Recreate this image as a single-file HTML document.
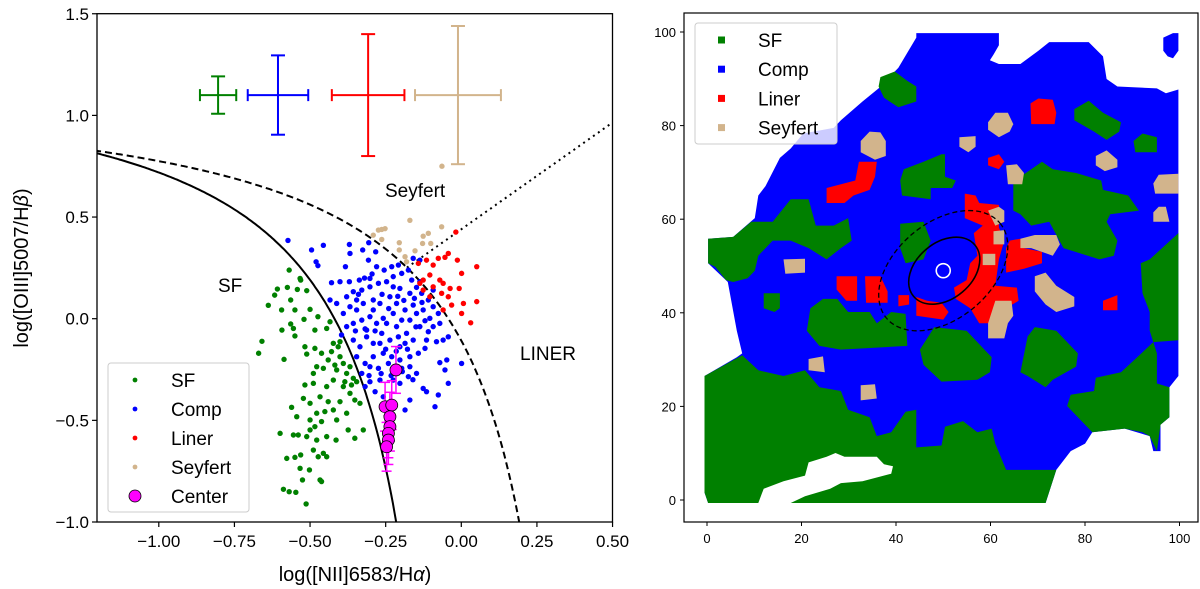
<!DOCTYPE html>
<html><head><meta charset="utf-8">
<style>
html,body{margin:0;padding:0;background:#fff;}
svg{display:block;font-family:"Liberation Sans","DejaVu Sans",sans-serif;}
</style></head>
<body>
<svg id="fig" width="1200" height="589" viewBox="0 0 1200 589" xmlns="http://www.w3.org/2000/svg">
<defs>
<clipPath id="clipL"><rect x="97" y="13.7" width="515.5" height="508.3"/></clipPath>
<clipPath id="clipR"><rect x="684" y="13" width="514" height="509"/></clipPath>
</defs>
<g id="left"></g>
<g id="right"></g>
</svg>
<script>
// ---------- LEFT PANEL DATA (BPT diagram) ----------
const sfX=[-0.569,-0.533,-0.531,-0.608,-0.575,-0.542,-0.511,-0.617,-0.564,-0.638,-0.594,-0.550,-0.500,-0.520,-0.474,-0.564,-0.593,-0.555,-0.484,-0.445,-0.434,-0.659,-0.670,-0.586,-0.550,-0.517,-0.511,-0.484,-0.462,-0.423,-0.407,-0.401,-0.440,-0.478,-0.456,-0.418,-0.390,-0.379,-0.357,-0.346,-0.390,-0.368,-0.352,-0.335,-0.423,-0.445,-0.489,-0.517,-0.522,-0.500,-0.467,-0.440,-0.401,-0.379,-0.423,-0.451,-0.478,-0.500,-0.484,-0.462,-0.412,-0.374,-0.352,-0.414,-0.445,-0.500,-0.511,-0.539,-0.555,-0.544,-0.561,-0.478,-0.489,-0.473,-0.445,-0.456,-0.533,-0.502,-0.577,-0.550,-0.525,-0.467,-0.462,-0.588,-0.569,-0.547,-0.513,-0.599,-0.531,-0.385,-0.363,-0.324,-0.412,-0.489,-0.429,-0.368,-0.401];
const sfY=[0.239,0.198,0.190,0.146,0.154,0.144,0.138,0.116,0.092,0.066,0.043,0.043,0.046,-0.003,0.010,-0.026,-0.056,-0.048,-0.056,-0.048,-0.015,-0.111,-0.170,-0.200,-0.085,-0.138,-0.174,-0.146,-0.170,-0.121,-0.138,-0.113,-0.203,-0.236,-0.244,-0.228,-0.220,-0.269,-0.293,-0.310,-0.334,-0.367,-0.400,-0.416,-0.302,-0.334,-0.318,-0.326,-0.392,-0.416,-0.384,-0.408,-0.408,-0.465,-0.449,-0.457,-0.465,-0.498,-0.531,-0.506,-0.498,-0.547,-0.588,-0.597,-0.580,-0.547,-0.580,-0.572,-0.572,-0.482,-0.436,-0.597,-0.646,-0.679,-0.679,-0.662,-0.736,-0.744,-0.687,-0.682,-0.793,-0.793,-0.801,-0.839,-0.851,-0.854,-0.911,-0.564,-0.670,-0.310,-0.326,-0.547,-0.252,-0.269,-0.162,-0.236,-0.187];
const compX=[-0.573,-0.495,-0.456,-0.480,-0.474,-0.370,-0.368,-0.326,-0.306,-0.283,-0.383,-0.429,-0.401,-0.370,-0.337,-0.307,-0.280,-0.255,-0.230,-0.208,-0.197,-0.175,-0.164,-0.137,-0.148,-0.434,-0.412,-0.379,-0.357,-0.329,-0.302,-0.274,-0.247,-0.225,-0.203,-0.170,-0.131,-0.109,-0.093,-0.076,-0.390,-0.368,-0.346,-0.324,-0.291,-0.269,-0.236,-0.214,-0.186,-0.159,-0.126,-0.104,-0.071,-0.043,-0.060,-0.396,-0.379,-0.357,-0.329,-0.302,-0.280,-0.258,-0.225,-0.197,-0.170,-0.137,-0.109,-0.082,-0.120,-0.357,-0.335,-0.313,-0.291,-0.263,-0.236,-0.208,-0.186,-0.159,-0.142,-0.170,-0.203,-0.230,-0.258,-0.291,-0.318,-0.346,-0.329,-0.302,-0.274,-0.241,-0.197,-0.175,-0.148,-0.203,-0.225,-0.269,-0.302,-0.318,-0.285,-0.258,-0.170,-0.186,-0.126,-0.115,-0.087,-0.071,-0.054,-0.048,-0.043,-0.076,0.001,-0.137,-0.159,-0.302,-0.225,-0.093,-0.313,-0.214,-0.148,-0.269,-0.203,-0.115,-0.291,-0.247,-0.181,-0.346,-0.093,-0.170,-0.225,-0.340,-0.320,-0.295,-0.262,-0.240,-0.210,-0.190,-0.155,-0.130,-0.350,-0.318,-0.285,-0.250,-0.215,-0.178,-0.150,-0.305,-0.265,-0.232,-0.195,-0.160,-0.120];
const compY=[0.385,0.338,0.361,0.280,0.261,0.365,0.321,0.338,0.374,0.329,0.256,0.177,0.182,0.182,0.190,0.288,0.256,0.239,0.256,0.264,0.223,0.239,0.190,0.182,0.154,0.092,0.075,0.108,0.133,0.141,0.157,0.174,0.182,0.157,0.149,0.125,0.125,0.092,0.059,0.026,0.026,0.059,0.043,0.075,0.092,0.075,0.108,0.075,0.043,0.067,0.043,0.002,-0.023,-0.089,-0.105,-0.080,-0.039,-0.023,-0.007,0.010,-0.023,0.002,0.026,-0.007,-0.007,-0.039,-0.064,-0.113,-0.146,-0.105,-0.138,-0.089,-0.121,-0.072,-0.105,-0.089,-0.121,-0.105,-0.170,-0.187,-0.203,-0.187,-0.170,-0.187,-0.220,-0.187,-0.269,-0.236,-0.244,-0.220,-0.244,-0.285,-0.269,-0.318,-0.302,-0.302,-0.310,-0.334,-0.359,-0.384,-0.400,-0.449,-0.343,-0.359,-0.433,-0.216,-0.252,-0.203,-0.318,-0.375,-0.220,0.288,0.297,0.198,0.207,0.141,-0.056,-0.039,0.026,-0.121,-0.138,-0.105,0.043,-0.023,-0.072,0.092,-0.039,-0.236,-0.252,0.120,0.200,0.220,0.120,0.050,0.110,0.090,0.100,0.080,-0.060,-0.050,-0.060,-0.150,-0.160,-0.150,-0.040,-0.280,-0.270,-0.280,-0.260,-0.300,-0.010];
const linerX=[-0.018,-0.043,-0.054,-0.076,-0.115,-0.142,-0.093,-0.104,-0.071,-0.137,-0.126,-0.093,-0.060,-0.104,-0.065,-0.037,-0.043,-0.013,0.001,-0.007,0.051,-0.060,-0.032,0.007,0.001,0.051,0.031,-0.126];
const linerY=[0.426,0.321,0.302,0.297,0.288,0.272,0.264,0.215,0.190,0.174,0.141,0.157,0.174,0.108,0.125,0.149,0.108,0.288,0.223,0.149,0.256,0.043,0.067,0.075,0.026,0.084,-0.020,0.190];
const seyX=[-0.291,-0.274,-0.263,-0.252,-0.263,-0.170,-0.205,-0.205,-0.126,-0.109,-0.128,-0.101,-0.065,-0.153,-0.181,-0.186,-0.064];
const seyY=[0.411,0.436,0.439,0.443,0.390,0.484,0.374,0.338,0.406,0.420,0.370,0.370,0.452,0.334,0.280,0.305,0.750];
const centerX=[-0.216,-0.252,-0.230,-0.236,-0.236,-0.241,-0.241,-0.247];
const centerY=[-0.252,-0.433,-0.425,-0.482,-0.531,-0.564,-0.597,-0.630];
const centerYErr=[0.115,0.12,0.12,0.12,0.12,0.12,0.12,0.12];
const errClass=['SF','Comp','Liner','Seyfert'];
const errColors=['#008000','#0000ff','#ff0000','#d2b48c'];
const errCX=[-0.804,-0.606,-0.308,-0.011];
const errCY=[1.1,1.1,1.1,1.1];
const errXE=[0.06,0.1,0.12,0.142];
const errYE=[0.092,0.195,0.30,0.34];
const xTicks=[-1.00,-0.75,-0.50,-0.25,0.00,0.25,0.50];
const xTickLabels=['\u22121.00','\u22120.75','\u22120.50','\u22120.25','0.00','0.25','0.50'];
const yTicks=[1.5,1.0,0.5,0.0,-0.5,-1.0];
const yTickLabels=['1.5','1.0','0.5','0.0','\u22120.5','\u22121.0'];

// ---------- RIGHT PANEL DATA (map regions traced in image units) ----------
const mapTicks=[0,20,40,60,80,100];
const occupiedOutline=[[770,88],[1000,88],[1000,120],[985,145],[975,160],[1000,170],[1060,170],[1110,135],[1140,112],[1250,112],[1290,150],[1300,210],[1330,230],[1440,235],[1465,248],[1500,238],[1500,1000],[1475,1030],[1475,1110],[1450,1130],[1450,1200],[1430,1200],[1420,1160],[1350,1140],[1260,1150],[1240,1180],[1200,1200],[1160,1250],[1130,1338],[190,1338],[180,1310],[180,1000],[270,950],[285,940],[270,880],[245,750],[190,700],[190,635],[260,630],[320,580],[330,520],[350,495],[390,420],[420,395],[455,355],[540,340],[560,320],[620,270],[665,235],[720,180],[745,140],[770,100]];
const blueIsland=[[1458,100],[1485,88],[1500,88],[1500,135],[1485,155],[1470,150],[1458,135]];
const sfRegions=[
[[180,1000],[180,1310],[190,1338],[1130,1338],[1160,1250],[1020,1250],[990,1180],[980,1140],[940,1150],[900,1120],[850,1135],[840,1185],[770,1190],[770,1090],[740,1095],[700,1150],[660,1160],[640,1110],[580,1090],[560,1040],[500,1030],[460,985],[400,1000],[330,985],[285,945]],
[[1500,620],[1420,690],[1395,700],[1400,780],[1420,830],[1420,880],[1440,940],[1440,1020],[1475,1030],[1475,1110],[1450,1130],[1440,1200],[1420,1160],[1400,1150],[1350,1140],[1260,1150],[1190,1080],[1200,1050],[1265,1040],[1270,1005],[1340,990],[1380,955],[1430,910],[1500,905]],
[[190,635],[260,630],[310,590],[370,590],[420,530],[470,530],[490,600],[540,600],[580,580],[590,640],[560,660],[520,690],[470,660],[420,640],[370,640],[330,680],[320,720],[300,740],[260,750],[240,745],[210,710],[190,700]],
[[345,780],[390,780],[390,820],[375,830],[345,820]],
[[475,820],[510,795],[550,795],[580,830],[640,830],[660,860],[700,830],[740,835],[745,920],[560,930],[500,920],[465,880]],
[[670,205],[710,190],[745,215],[770,230],[770,270],[720,285],[680,260],[665,230]],
[[735,450],[790,430],[840,410],[850,410],[850,470],[880,480],[870,500],[810,500],[810,530],[730,520],[725,480]],
[[725,595],[790,590],[810,640],[790,690],[740,700],[725,660]],
[[780,930],[820,870],[910,880],[950,920],[980,950],[975,990],[940,1010],[840,1015],[790,970]],
[[1040,480],[1075,460],[1120,430],[1150,450],[1215,460],[1285,480],[1290,505],[1360,520],[1390,560],[1310,570],[1300,590],[1330,640],[1320,680],[1280,690],[1180,660],[1140,590],[1090,600],[1060,570],[1040,560]],
[[1080,895],[1100,870],[1160,880],[1220,940],[1215,975],[1150,1010],[1130,1030],[1080,1000],[1060,990]],
[[1210,290],[1250,268],[1290,300],[1340,325],[1335,350],[1300,372],[1265,350],[1210,320]],
[[1375,375],[1400,355],[1440,365],[1440,405],[1380,405]]];
const holeRegions=[[[330,1338],[345,1300],[400,1280],[460,1265],[470,1230],[520,1215],[545,1205],[570,1215],[660,1215],[680,1235],[705,1240],[700,1260],[620,1280],[560,1285],[530,1300],[460,1320],[420,1338]]];
const linerRegions=[
[[520,500],[600,480],[610,430],[660,430],[655,470],[640,505],[595,520],[570,540],[520,540]],
[[548,735],[605,735],[605,800],[575,800],[548,770]],
[[627,735],[670,735],[690,775],[690,805],[630,805]],
[[720,785],[750,785],[750,810],[720,815]],
[[770,790],[800,800],[840,805],[860,830],[845,850],[770,840]],
[[905,515],[935,520],[945,540],[1000,545],[1000,605],[1015,640],[1000,690],[990,760],[1050,765],[1055,800],[1010,825],[990,860],[945,860],[920,820],[880,795],[875,765],[910,745],[920,700],[940,680],[930,620],[955,600],[905,580],[905,555]],
[[1030,640],[1060,635],[1070,660],[1120,670],[1120,700],[1070,715],[1020,725],[1020,660]],
[[970,420],[1000,410],[1015,430],[1000,450],[970,440]],
[[1088,275],[1110,262],[1150,265],[1160,300],[1155,330],[1090,330]],
[[1290,800],[1330,785],[1330,825],[1290,825]]];
const seyfertRegions=[
[[615,375],[640,350],[670,352],[685,375],[685,415],[655,425],[615,405]],
[[400,690],[460,688],[460,725],[405,728]],
[[470,955],[510,948],[515,990],[470,985]],
[[615,1025],[655,1022],[660,1060],[615,1065]],
[[890,365],[935,362],[935,390],[915,405],[890,390]],
[[970,325],[990,300],[1025,300],[1040,330],[1030,350],[1000,365],[970,345]],
[[1270,415],[1300,400],[1330,425],[1330,445],[1295,455],[1270,440]],
[[1020,440],[1050,437],[1070,460],[1065,490],[1025,490]],
[[1430,488],[1445,465],[1500,462],[1500,515],[1435,515]],
[[1430,565],[1445,550],[1465,550],[1475,590],[1430,590]],
[[970,560],[1000,550],[1015,560],[1015,590],[990,600]],
[[985,615],[1015,612],[1015,650],[985,650]],
[[955,675],[990,675],[990,705],[955,705]],
[[1060,635],[1100,625],[1160,625],[1170,650],[1150,680],[1090,660],[1060,660]],
[[1100,735],[1130,725],[1160,760],[1210,790],[1210,815],[1160,830],[1130,810],[1100,775]],
[[990,800],[1035,800],[1040,840],[1025,860],[1015,900],[970,900],[970,860]]];
const ellipseCenter=[50,49];

const NS='http://www.w3.org/2000/svg';
function mk(parent,tag,attrs){const e=document.createElementNS(NS,tag);for(const k in attrs)e.setAttribute(k,attrs[k]);parent.appendChild(e);return e;}

// ---------- LEFT ----------
const L=document.getElementById('left');
const lx=v=>461.3+302.5*v, ly=v=>318.7-203.3*v;
const plot=mk(L,'g',{'clip-path':'url(#clipL)'});


function curve(f,x0,x1,attrs,name){let d='';for(let i=0;i<=200;i++){const x=x0+(x1-x0)*i/200;const y=f(x);d+=(i?'L':'M')+lx(x).toFixed(1)+','+ly(y).toFixed(1);}
 const p=mk(plot,'path',Object.assign({d:d,fill:'none',stroke:'#000','stroke-width':2},attrs));
 
 }
curve(x=>0.61/(x-0.05)+1.3,-1.25,-0.2,{},'kauffmann-line');
curve(x=>0.61/(x-0.47)+1.19,-1.25,0.2,{'stroke-dasharray':'7,4'},'kewley-line');
curve(x=>1.05*x+0.44,-0.18,0.5,{'stroke-dasharray':'2,4'},'seyfert-liner-line');
function scatter(xs,ys,col,name){const g=mk(plot,'g',{fill:col});
 
 
 for(let i=0;i<xs.length;i++){const c=mk(g,'circle',{cx:lx(xs[i]),cy:ly(ys[i]),r:2.7});
  
  }}
scatter(sfX,sfY,'#008000','sf-points');
scatter(compX,compY,'#0000ff','comp-points');
scatter(linerX,linerY,'#ff0000','liner-points');
scatter(seyX,seyY,'#d2b48c','seyfert-points');
const cg=mk(plot,'g',{});


for(let i=0;i<centerX.length;i++){const x=lx(centerX[i]),y0=ly(centerY[i]-centerYErr[i]),y1=ly(centerY[i]+centerYErr[i]);
 mk(cg,'line',{x1:x,x2:x,y1:y0,y2:y1,stroke:'#ff00ff','stroke-width':1.5});
 mk(cg,'line',{x1:x-5,x2:x+5,y1:y0,y2:y0,stroke:'#ff00ff','stroke-width':1.5});
 mk(cg,'line',{x1:x-5,x2:x+5,y1:y1,y2:y1,stroke:'#ff00ff','stroke-width':1.5});}
for(let i=0;i<centerX.length;i++){const c=mk(cg,'circle',{cx:lx(centerX[i]),cy:ly(centerY[i]),r:6,fill:'#ff00ff',stroke:'#000','stroke-width':0.8});
 
 }
for(let i=0;i<errCX.length;i++){const g=mk(plot,'g',{stroke:errColors[i],'stroke-width':2});
 
 
 const x=lx(errCX[i]),y=ly(errCY[i]),xa=lx(errCX[i]-errXE[i]),xb=lx(errCX[i]+errXE[i]),ya=ly(errCY[i]+errYE[i]),yb=ly(errCY[i]-errYE[i]);
 mk(g,'line',{x1:xa,x2:xb,y1:y,y2:y});mk(g,'line',{x1:x,x2:x,y1:ya,y2:yb});
 mk(g,'line',{x1:xa,x2:xa,y1:y-6,y2:y+6});mk(g,'line',{x1:xb,x2:xb,y1:y-6,y2:y+6});
 mk(g,'line',{x1:x-7,x2:x+7,y1:ya,y2:ya});mk(g,'line',{x1:x-7,x2:x+7,y1:yb,y2:yb});}
[['Seyfert',385,197,'region-label-seyfert'],['SF',218,292,'region-label-sf'],['LINER',520,360,'region-label-liner']].forEach(t=>{const e=mk(L,'text',{x:t[1],y:t[2],'font-size':19,fill:'#000'});e.textContent=t[0];
 
 });
const fr=mk(L,'rect',{x:97,y:13.7,width:515.5,height:508.3,fill:'none',stroke:'#000','stroke-width':1.3});


xTicks.forEach((v,i)=>{const x=lx(v);mk(L,'line',{x1:x,x2:x,y1:522,y2:527,stroke:'#000','stroke-width':1.2});
 const t=mk(L,'text',{x:x,y:547,'font-size':17,'text-anchor':'middle'});t.textContent=xTickLabels[i];
 
 });
yTicks.forEach((v,i)=>{const y=ly(v);mk(L,'line',{x1:92,x2:97,y1:y,y2:y,stroke:'#000','stroke-width':1.2});
 const t=mk(L,'text',{x:89,y:y+6,'font-size':17,'text-anchor':'end'});t.textContent=yTickLabels[i];
 
 });
const xt=mk(L,'text',{x:355,y:581,'font-size':20,'text-anchor':'middle'});xt.innerHTML='log([NII]6583/H<tspan font-style="italic">α</tspan>)';


const yt=mk(L,'text',{x:0,y:0,'font-size':20,'text-anchor':'middle',transform:'translate(28,268) rotate(-90)'});yt.innerHTML='log([OIII]5007/H<tspan font-style="italic">β</tspan>)';


const lg=mk(L,'g',{});


mk(lg,'rect',{x:108,y:363,width:141,height:149,rx:3,fill:'#fff','fill-opacity':0.8,stroke:'#ccc'});
[['SF','#008000'],['Comp','#0000ff'],['Liner','#ff0000'],['Seyfert','#d2b48c']].forEach((e,i)=>{const y=380+i*29;
 mk(lg,'circle',{cx:135,cy:y,r:2.4,fill:e[1]});
 const t=mk(lg,'text',{x:171,y:y+7,'font-size':19});t.textContent=e[0];
 
 });
mk(lg,'circle',{cx:135,cy:496,r:6,fill:'#ff00ff',stroke:'#000','stroke-width':0.8});
const ct=mk(lg,'text',{x:171,y:503,'font-size':19});ct.textContent='Center';



// ---------- RIGHT ----------
const R=document.getElementById('right');
const mx=v=>707+4.725*v, my=v=>500-4.68*v;
const toGrid=p=>[(p[0]-187)/13.16,(1330-p[1])/12.45];
const mapArea=mk(R,'g',{'clip-path':'url(#clipR)'});


function poly(pts,col,name){const d=pts.map(toGrid).map(g=>mx(g[0]).toFixed(1)+','+my(g[1]).toFixed(1)).join(' ');
 const p=mk(mapArea,'polygon',{points:d,fill:col});
 
 }
poly(occupiedOutline,'#0000ff','comp-region');
poly(blueIsland,'#0000ff','comp-region');
sfRegions.forEach(r=>poly(r,'#008000','sf-region'));
holeRegions.forEach(r=>poly(r,'#ffffff','no-data-region'));
linerRegions.forEach(r=>poly(r,'#ff0000','liner-region'));
seyfertRegions.forEach(r=>poly(r,'#d2b48c','seyfert-region'));
const ecx=mx(ellipseCenter[0]),ecy=my(ellipseCenter[1]);
const e1=mk(mapArea,'ellipse',{cx:ecx,cy:ecy,rx:74,ry:48,transform:`rotate(-40 ${ecx} ${ecy})`,fill:'none',stroke:'#000','stroke-width':1.3,'stroke-dasharray':'5,3'});


const e2=mk(mapArea,'ellipse',{cx:ecx+1,cy:ecy,rx:40,ry:28,transform:`rotate(-40 ${ecx+1} ${ecy})`,fill:'none',stroke:'#000','stroke-width':1.6});


const cc=mk(mapArea,'circle',{cx:ecx,cy:ecy,r:7,fill:'none',stroke:'#fff','stroke-width':1.6});


const fr2=mk(R,'rect',{x:684,y:13,width:514,height:509,fill:'none',stroke:'#000','stroke-width':1.2});


mapTicks.forEach(v=>{const x=mx(v),y=my(v);
 mk(R,'line',{x1:x,x2:x,y1:522,y2:526,stroke:'#000'});
 mk(R,'line',{x1:680,x2:684,y1:y,y2:y,stroke:'#000'});
 const t=mk(R,'text',{x:x,y:543,'font-size':13,'text-anchor':'middle'});t.textContent=v;
 
 
 const t2=mk(R,'text',{x:676,y:y+5,'font-size':13,'text-anchor':'end'});t2.textContent=v;
 
 });
const lg2=mk(R,'g',{});


mk(lg2,'rect',{x:695,y:23,width:142,height:121,rx:3,fill:'#fff','fill-opacity':0.8,stroke:'#ccc'});
[['SF','#008000'],['Comp','#0000ff'],['Liner','#ff0000'],['Seyfert','#d2b48c']].forEach((e,i)=>{const y=40+i*29.2;
 mk(lg2,'rect',{x:718,y:y-3.5,width:7,height:7,fill:e[1]});
 const t=mk(lg2,'text',{x:758,y:y+7,'font-size':19});t.textContent=e[0];
 
 });
</script>
</body></html>
